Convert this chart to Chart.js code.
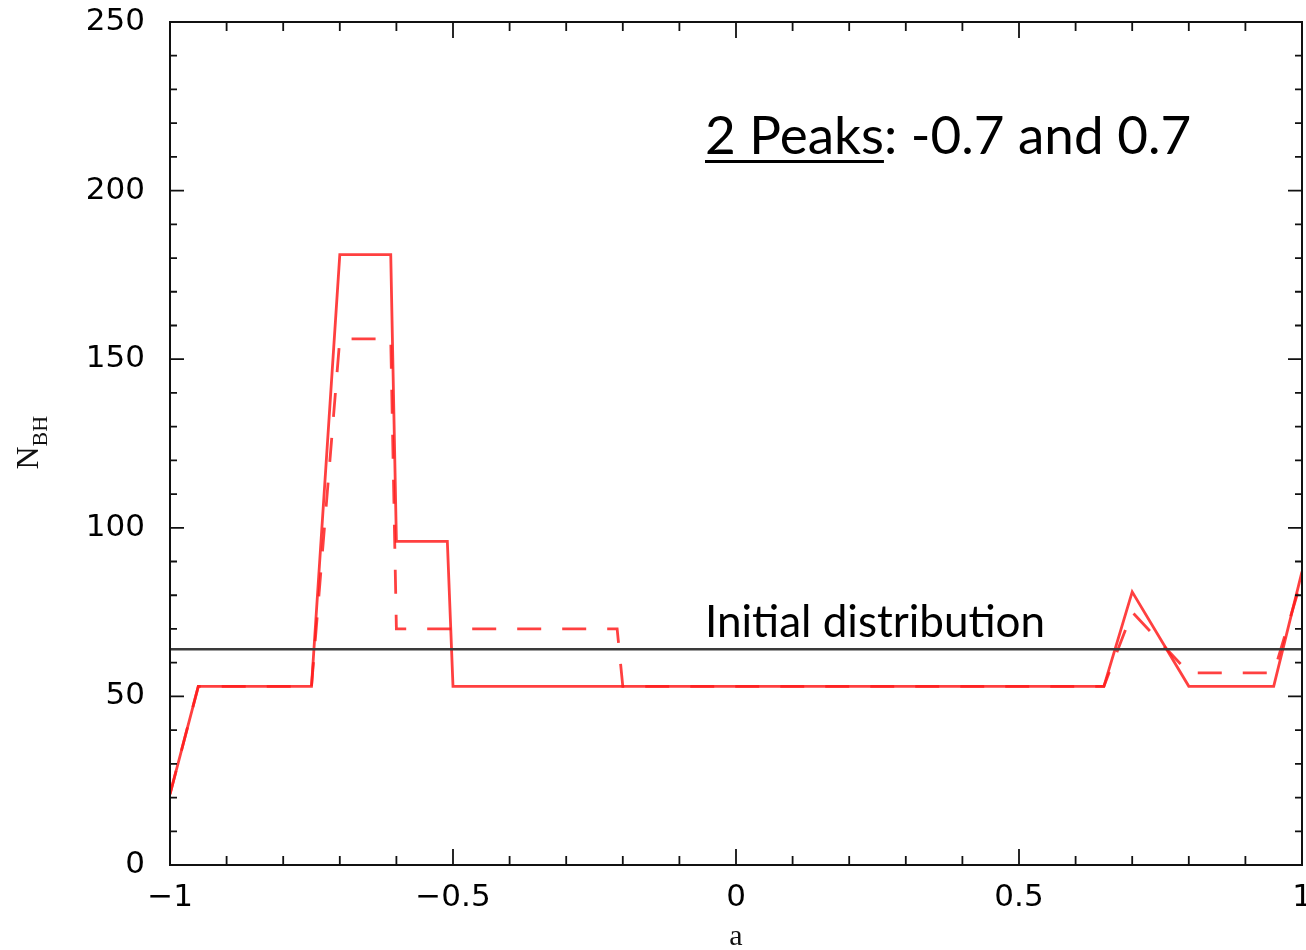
<!DOCTYPE html>
<html>
<head>
<meta charset="utf-8">
<script src="https://cdn.jsdelivr.net/npm/chart.js@4/dist/chart.umd.min.js"></script>
<style>
  html,body{margin:0;padding:0;background:#fff;}
  #wrap{width:1306px;height:950px;position:relative;}
</style>
</head>
<body>
<div id="wrap"><canvas id="c" width="1306" height="950"></canvas></div>
<script>
// spin parameter a vs number of black holes
const solidA  = [-1, -0.95, -0.75, -0.7, -0.61, -0.6, -0.51, -0.5, 0.65, 0.7, 0.8, 0.95, 1];
const solidN  = [21, 53, 53, 181, 181, 96, 96, 53, 53, 81, 53, 53, 87];
const dashedA = [-1, -0.95, -0.75, -0.7, -0.61, -0.6, -0.21, -0.2, 0.65, 0.7, 0.8, 0.95, 1];
const dashedN = [21, 53, 53, 156, 156, 70, 70, 53, 53, 75, 57, 57, 85];
const initA   = [-1, 1];
const initN   = [64, 64];

const xTicks = [-1, -0.5, 0, 0.5, 1];
const yTicks = [0, 50, 100, 150, 200, 250];

const titleText = '2 Peaks';
const titleRest = ': -0.7 and 0.7';
const initLabel = 'Initial distribution';

function pts(xs, ys){ return xs.map((x,i)=>({x:x, y:ys[i]})); }
function fmtTick(v){ return (v < 0 ? '\u2212' : '') + String(Math.abs(v)); }

// frame, inward ticks, axis titles and annotations
const decor = {
  id: 'decor',
  afterDraw(chart){
    const ctx = chart.ctx, a = chart.chartArea;
    const xs = chart.scales.x, ys = chart.scales.y;
    ctx.save();
    ctx.strokeStyle = '#111'; ctx.lineWidth = 2;
    ctx.strokeRect(a.left, a.top, a.right - a.left, a.bottom - a.top);
    ctx.lineWidth = 1.8;
    ctx.beginPath();
    for (let i = -10; i <= 10; i++){
      const v = i / 10, px = xs.getPixelForValue(v);
      const len = (i % 5 === 0) ? 16 : 9;
      ctx.moveTo(px, a.bottom); ctx.lineTo(px, a.bottom - len);
      ctx.moveTo(px, a.top); ctx.lineTo(px, a.top + len);
    }
    for (let v = 0; v <= 250; v += 10){
      const py = ys.getPixelForValue(v);
      const len = (v % 50 === 0) ? 14 : 7;
      ctx.moveTo(a.left, py); ctx.lineTo(a.left + len, py);
      ctx.moveTo(a.right, py); ctx.lineTo(a.right - len, py);
    }
    ctx.stroke();

    // axis titles
    ctx.fillStyle = '#111';
    ctx.font = '30px "Liberation Serif", "DejaVu Serif", serif';
    ctx.textAlign = 'center'; ctx.textBaseline = 'alphabetic';
    ctx.fillText('a', (a.left + a.right) / 2, 945);
    ctx.save();
    ctx.translate(38, (a.top + a.bottom) / 2 + 26);
    ctx.rotate(-Math.PI / 2);
    ctx.textAlign = 'left';
    ctx.font = '32px "Liberation Serif", "DejaVu Serif", serif';
    ctx.fillText('N', 0, 0);
    const nw = ctx.measureText('N').width;
    ctx.font = '22px "Liberation Serif", "DejaVu Serif", serif';
    ctx.fillText('BH', nw, 9);
    ctx.restore();

    // annotations
    ctx.textAlign = 'left';
    ctx.fillStyle = '#000';
    ctx.font = '53px Lato, "Open Sans", sans-serif';
    const tx = 705, ty = 154;
    ctx.fillText(titleText, tx, ty);
    const w1 = ctx.measureText(titleText).width;
    ctx.fillText(titleRest, tx + w1, ty);
    ctx.fillRect(tx, ty + 6, w1, 3);
    ctx.font = '44px Lato, "Open Sans", sans-serif';
    ctx.fillText(initLabel, 705, 637);
    ctx.restore();
  }
};

new Chart(document.getElementById('c'), {
  type: 'line',
  data: {
    datasets: [
      { label: 'initial', data: pts(initA, initN), borderColor: '#3a3a3a', borderWidth: 2.5, pointRadius: 0, tension: 0 },
      { label: 'dashed', data: pts(dashedA, dashedN), borderColor: 'rgba(255,30,30,0.85)', borderWidth: 2.8, borderDash: [24, 21], pointRadius: 0, tension: 0 },
      { label: 'solid', data: pts(solidA, solidN), borderColor: 'rgba(255,30,30,0.85)', borderWidth: 2.8, pointRadius: 0, tension: 0 }
    ]
  },
  options: {
    responsive: false,
    animation: false,
    layout: { padding: { top: 22, right: 4, left: 0, bottom: 0 } },
    plugins: { legend: { display: false }, tooltip: { enabled: false } },
    scales: {
      x: {
        type: 'linear', min: -1, max: 1,
        grid: { display: false, drawTicks: false }, border: { display: false },
        afterBuildTicks: s => { s.ticks = xTicks.map(v => ({ value: v })); },
        ticks: { callback: fmtTick, maxRotation: 0, autoSkip: false, padding: 14, color: '#000',
                 font: { family: '"DejaVu Sans", sans-serif', size: 31 } },
        afterFit: s => { s.height = 85; s.paddingLeft = 0; s.paddingRight = 0; }
      },
      y: {
        type: 'linear', min: 0, max: 250,
        grid: { display: false, drawTicks: false }, border: { display: false },
        afterBuildTicks: s => { s.ticks = yTicks.map(v => ({ value: v })); },
        ticks: { padding: 25, color: '#000', font: { family: '"DejaVu Sans", sans-serif', size: 31 } },
        afterFit: s => { s.width = 170; s.paddingTop = 0; s.paddingBottom = 0; }
      }
    }
  },
  plugins: [decor]
});
</script>
</body>
</html>
